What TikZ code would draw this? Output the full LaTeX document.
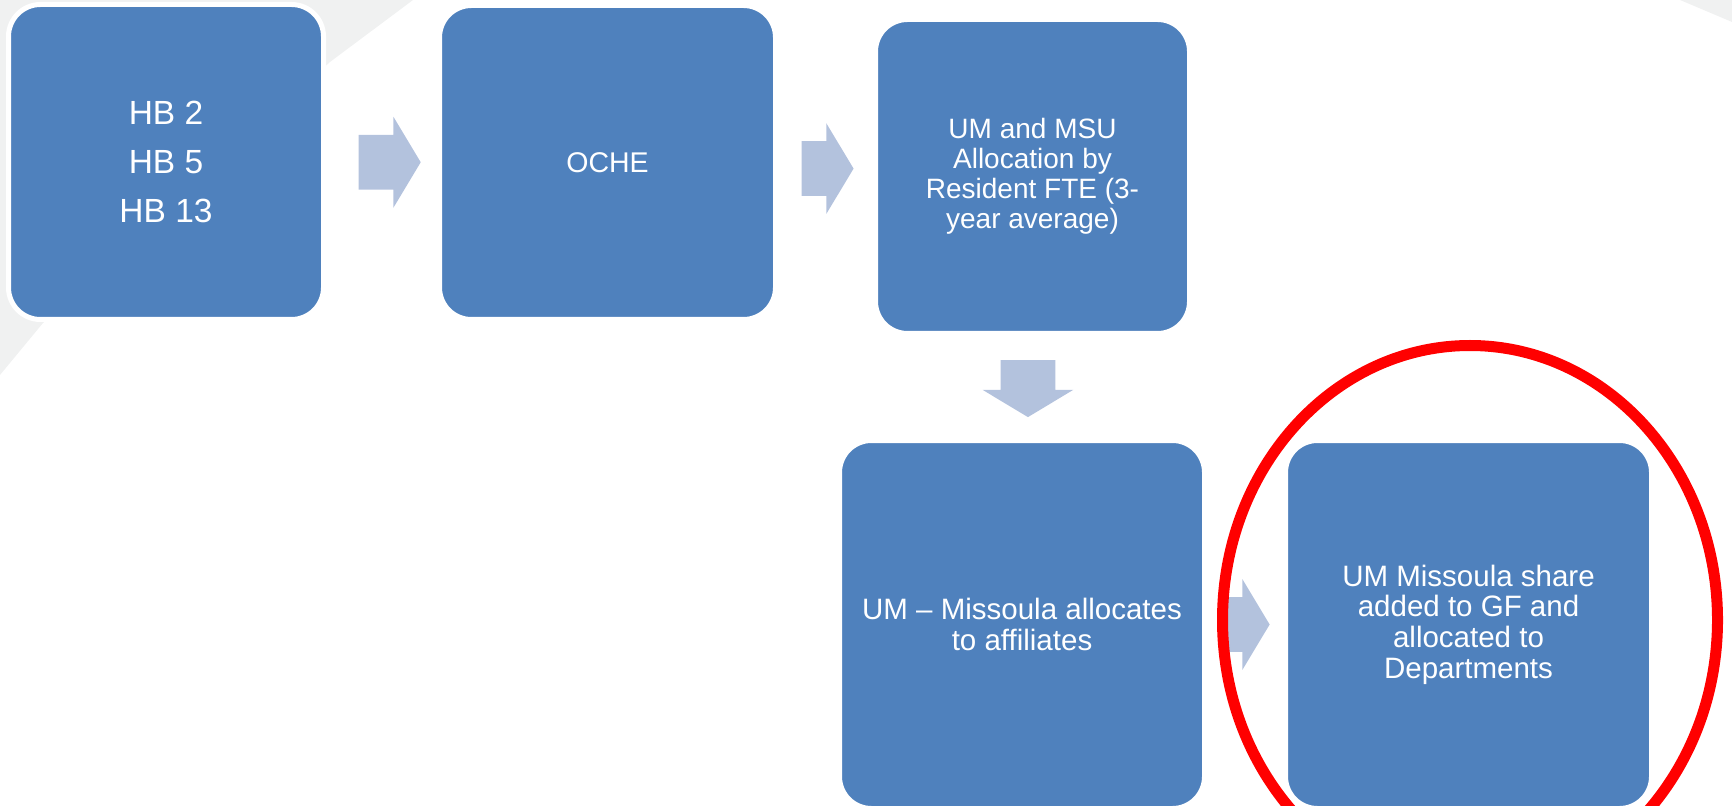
\documentclass[tikz,border=0pt]{standalone}
\usepackage{fontspec}
\setmainfont{Liberation Sans}
\usetikzlibrary{shapes.arrows,shapes.geometric,calc}

\definecolor{boxblue}{HTML}{4F81BD}
\definecolor{arrowblue}{HTML}{B3C2DD}
\definecolor{bggrey}{HTML}{F0F1F1}

\tikzset{
  stepbox/.style={rectangle, rounded corners=16pt, fill=boxblue, draw=white,
    line width=2.5pt, text=white, align=center, inner sep=0pt,
    font=\fontsize{14.25}{15.5}\selectfont},
  flowarrow/.style={single arrow, fill=arrowblue, draw=none, inner xsep=0pt,
    inner ysep=13.5pt, minimum width=45pt, single arrow head extend=9pt,
    single arrow tip angle=118},
}

\begin{document}
\begin{tikzpicture}[x=0.5pt,y=-0.5pt]
    \useasboundingbox (0,0) rectangle (1732,806);
    %% background
    \fill[bggrey] (0,0) -- (413,0) -- (330,62) -- (43,323) -- (0,375) -- cycle;
    \fill[bggrey] (1680,0) -- (1732,0) -- (1732,22) -- cycle;
    %% boxes
    \node[stepbox, minimum width=157.5pt, minimum height=157.5pt,
          font=\fontsize{16.75}{24.5}\selectfont] (hb) at (166,162) {HB 2\\HB 5\\HB 13};
    \node[stepbox, minimum width=168pt, minimum height=157pt] (oche) at (607.5,162.5) {OCHE};
    \node[stepbox, minimum width=157pt, minimum height=157pt,
          font=\fontsize{14}{15}\selectfont] (fte) at (1032.5,176.5)
          {UM and MSU\\Allocation by\\Resident FTE (3-\\year average)};
    \node[stepbox, minimum width=182.5pt, minimum height=184pt,
          font=\fontsize{14.75}{15.85}\selectfont] (missoula) at (1022,624.5)
          {UM -- Missoula allocates\\to affiliates};
    \node[stepbox, minimum width=183pt, minimum height=184pt,
          font=\fontsize{14.75}{15.3}\selectfont] (dept) at (1468.5,624.5)
          {UM Missoula share\\added to GF and\\allocated to\\Departments};
    %% arrows
    \node[flowarrow, minimum height=31pt] (a1) at ($(hb.east)!0.5!(oche.west)$) {};
    \node[flowarrow, minimum height=26pt] (a2) at ($(oche.east)!0.435!(fte.west)$) {};
    \node[flowarrow, minimum height=28.5pt, shape border rotate=270,
          inner xsep=13.5pt, inner ysep=0pt] (a3)
          at ($(fte.south)!0.435!(missoula.north)$) {};
    \node[flowarrow, minimum height=24pt] (a4) at ($(missoula.east)!0.4!(dept.west)$) {};
    %% highlight
    \node[ellipse, draw=red, line width=5.5pt, inner sep=0pt,
          minimum width=247.5pt, minimum height=274.5pt] (focus) at (1470,620) {};
\end{tikzpicture}
\end{document}
